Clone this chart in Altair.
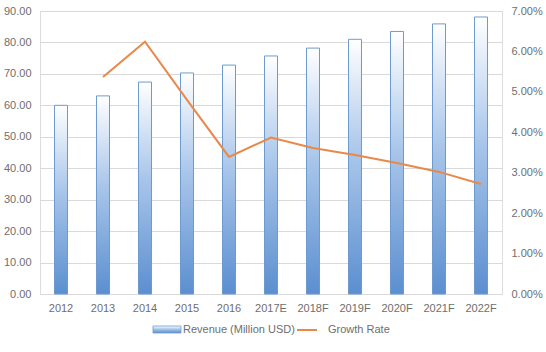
import altair as alt
import pandas as pd

years = ["2012", "2013", "2014", "2015", "2016", "2017E", "2018F", "2019F", "2020F", "2021F", "2022F"]
revenue = [60.0, 63.0, 67.4, 70.3, 72.8, 75.7, 78.2, 81.0, 83.5, 85.9, 88.1]
growth_years = ["2013", "2014", "2015", "2016", "2017E", "2018F", "2019F", "2020F", "2021F", "2022F"]
growth = [0.0537, 0.0624, 0.0480, 0.0339, 0.0387, 0.0361, 0.0344, 0.0324, 0.0302, 0.0272]
series_names = ["Revenue (Million USD)", "Growth Rate"]
left_ticks = [0, 10, 20, 30, 40, 50, 60, 70, 80, 90]
right_ticks = [0, 0.01, 0.02, 0.03, 0.04, 0.05, 0.06, 0.07]

df_bar = pd.DataFrame({"year": years, "revenue": revenue})
df_line = pd.DataFrame({"year": growth_years, "growth": growth})
one = pd.DataFrame({"k": [0]})

FONT = "Liberation Sans"
LABEL = "#6e6e6e"
ORANGE = "#E8894A"
grad = alt.Gradient(
    gradient="linear",
    stops=[alt.GradientStop(color="#ffffff", offset=0),
           alt.GradientStop(color="#a9c6ea", offset=0.45),
           alt.GradientStop(color="#5b8fd0", offset=1)],
    x1=0, x2=0, y1=0, y2=1,
)

xenc = alt.X("year:N", sort=years, title=None,
             scale=alt.Scale(paddingInner=0, paddingOuter=0),
             axis=alt.Axis(labelAngle=0, ticks=False, domainColor="#d9d9d9",
                           labelPadding=8, labelColor=LABEL, labelFont=FONT, labelFontSize=11))

bars = alt.Chart(df_bar).mark_bar(size=13, fill=grad, stroke="#6d9bcf", strokeWidth=1).encode(
    x=xenc,
    y=alt.Y("revenue:Q", title=None,
            scale=alt.Scale(domain=[0, 90], nice=False),
            axis=alt.Axis(values=left_ticks, format=".2f", domain=False, ticks=False,
                          gridColor="#d9d9d9", labelPadding=9, labelColor=LABEL,
                          labelFont=FONT, labelFontSize=11, orient="left")),
)

line = alt.Chart(df_line).mark_line(color=ORANGE, strokeWidth=2).encode(
    x=alt.X("year:N", sort=years),
    y=alt.Y("growth:Q", title=None,
            scale=alt.Scale(domain=[0, 0.07], nice=False),
            axis=alt.Axis(values=right_ticks, format=".2%", domain=False, ticks=False,
                          grid=False, labelPadding=9, labelColor=LABEL,
                          labelFont=FONT, labelFontSize=11, orient="right")),
)

leg_rect = alt.Chart(one).mark_rect(fill=grad, stroke="#6d9bcf", strokeWidth=0.8).encode(
    x=alt.value(113), x2=alt.value(141), y=alt.value(315), y2=alt.value(322))
leg_text1 = alt.Chart(one).mark_text(align="left", baseline="middle", font=FONT,
                                     fontSize=11, color=LABEL).encode(
    x=alt.value(143), y=alt.value(319), text=alt.value(series_names[0]))
leg_line = alt.Chart(one).mark_rule(color=ORANGE, strokeWidth=2).encode(
    x=alt.value(257), x2=alt.value(277), y=alt.value(319))
leg_text2 = alt.Chart(one).mark_text(align="left", baseline="middle", font=FONT,
                                     fontSize=11, color=LABEL).encode(
    x=alt.value(288), y=alt.value(319), text=alt.value(series_names[1]))

chart = alt.layer(bars, line, leg_rect, leg_text1, leg_line, leg_text2).resolve_scale(
    y="independent"
).properties(
    width=462, height=283,
    autosize=alt.AutoSizeParams(type="none"),
    padding={"left": 40, "top": 11, "right": 44, "bottom": 58},
).configure_view(stroke=None).configure(background="white")

chart.save("out.html", embed_options={"renderer": "svg", "actions": False})
